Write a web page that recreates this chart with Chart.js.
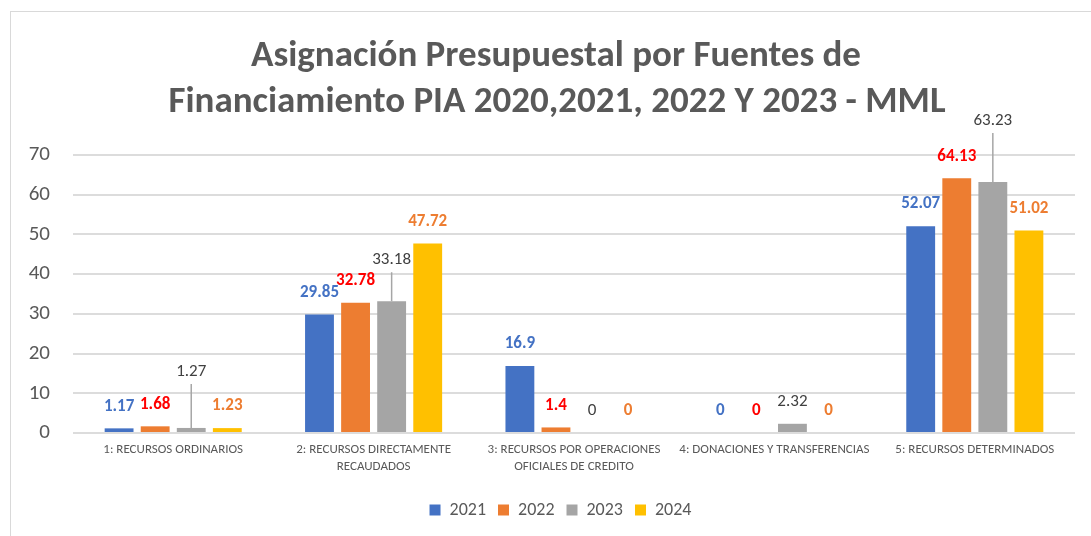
<!DOCTYPE html>
<html lang="es">
  <head>
    <meta charset="UTF-8" />
    <title>Asignación Presupuestal por Fuentes de Financiamiento</title>
    <script src="https://cdn.jsdelivr.net/npm/chart.js"></script>
    <style>
      html, body {
        margin: 0;
        padding: 0;
        background: #ffffff;
        overflow: hidden;
      }
      #wrap {
        position: relative;
        width: 1091px;
        height: 536px;
      }
    </style>
  </head>

  <body>
    <div id="wrap">
      <canvas id="fuentesChart" width="1091" height="536"></canvas>
    </div>

    <script>
      const titleLines = ["Asignación Presupuestal por Fuentes de", "Financiamiento PIA 2020,2021, 2022 Y 2023 - MML"];
      const categories = [
        ["1: RECURSOS ORDINARIOS"],
        ["2: RECURSOS DIRECTAMENTE", "RECAUDADOS"],
        ["3: RECURSOS POR OPERACIONES", "OFICIALES DE CREDITO"],
        ["4: DONACIONES Y TRANSFERENCIAS"],
        ["5: RECURSOS DETERMINADOS"],
      ];
      const seriesNames = ["2021", "2022", "2023", "2024"];
      const values2021 = [1.17, 29.85, 16.9, 0, 52.07];
      const values2022 = [1.68, 32.78, 1.4, 0, 64.13];
      const values2023 = [1.27, 33.18, 0, 2.32, 63.23];
      const values2024 = [1.23, 47.72, 0, 0, 51.02];
      const yTicks = [0, 10, 20, 30, 40, 50, 60, 70];

      const FONT = 'Carlito, Lato, "Open Sans", sans-serif';
      const barColors = ["#4472C4", "#ED7D31", "#A5A5A5", "#FFC000"];
      // label look per series (colour, weight)
      const labelStyle = [
        { color: "#4472C4", weight: "bold" },
        { color: "#FF0000", weight: "bold" },
        { color: "#404040", weight: "normal" },
        { color: "#ED7D31", weight: "bold" },
      ];
      // extra lift (px) for labels moved up with a leader line: [dataset][index]
      const leaderLift = { 2: { 0: 34, 1: 19, 4: 39 } };

      const framePlugin = {
        id: "frame",
        beforeDraw(chart) {
          const c = chart.ctx;
          c.save();
          c.strokeStyle = "#d9d9d9";
          c.lineWidth = 1;
          c.strokeRect(10.5, 11.5, 1200, 700);
          c.restore();
        },
        // legend sits a bit right of the canvas centre in the original
        afterLayout(chart) {
          chart.legend.left += 23;
          chart.legend.right += 23;
        },
      };

      const titlePlugin = {
        id: "twoLineTitle",
        afterDraw(chart) {
          const c = chart.ctx;
          c.save();
          c.fillStyle = "#595959";
          c.font = "bold 37px " + FONT;
          c.textAlign = "center";
          c.textBaseline = "alphabetic";
          c.fillText(titleLines[0], 556, 66);
          c.fillText(titleLines[1], 557, 112);
          c.restore();
        },
      };

      const valueLabels = {
        id: "valueLabels",
        afterDatasetsDraw(chart) {
          const c = chart.ctx;
          c.save();
          c.textAlign = "center";
          c.textBaseline = "middle";
          chart.data.datasets.forEach((ds, di) => {
            const meta = chart.getDatasetMeta(di);
            const st = labelStyle[di];
            meta.data.forEach((bar, i) => {
              const lift = (leaderLift[di] && leaderLift[di][i]) || 0;
              const y = bar.y - 22 - lift;
              if (lift) {
                c.strokeStyle = "#a6a6a6";
                c.lineWidth = 1.5;
                c.beginPath();
                c.moveTo(bar.x, y + 12);
                c.lineTo(bar.x, bar.y);
                c.stroke();
              }
              c.fillStyle = st.color;
              c.font = st.weight + " 17px " + FONT;
              c.fillText(String(ds.data[i]), bar.x, y);
            });
          });
          c.restore();
        },
      };

      const ctx = document.getElementById("fuentesChart").getContext("2d");
      const chart = new Chart(ctx, {
        type: "bar",
        data: {
          labels: categories,
          datasets: [values2021, values2022, values2023, values2024].map((vals, i) => ({
            label: seriesNames[i],
            data: vals,
            backgroundColor: barColors[i],
            categoryPercentage: 0.72,
            barPercentage: 0.8,
          })),
        },
        options: {
          responsive: false,
          animation: false,
          layout: {
            padding: { top: 155, right: 16, bottom: 7, left: 0 },
          },
          plugins: {
            title: { display: false },
            tooltip: { enabled: false },
            legend: {
              position: "bottom",
              labels: {
                boxWidth: 11,
                boxHeight: 11,
                padding: 12,
                color: "#595959",
                font: { family: FONT, size: 18 },
              },
            },
          },
          scales: {
            x: {
              grid: { display: false, drawTicks: false },
              border: { display: false },
              ticks: {
                color: "#595959",
                padding: 8,
                maxRotation: 0,
                autoSkip: false,
                font: { family: FONT, size: 13, lineHeight: 1.3 },
              },
              afterFit(scale) {
                scale.height = 56;
              },
            },
            y: {
              min: 0,
              max: 70,
              afterBuildTicks(scale) {
                scale.ticks = yTicks.map((v) => ({ value: v }));
              },
              grid: { color: "#dcdcdc", lineWidth: 2, drawTicks: false },
              border: { display: false },
              ticks: {
                color: "#595959",
                padding: 23,
                font: { family: FONT, size: 21 },
              },
              afterFit(scale) {
                scale.width = 73;
              },
            },
          },
        },
        plugins: [framePlugin, titlePlugin, valueLabels],
      });
    </script>
  </body>
</html>
